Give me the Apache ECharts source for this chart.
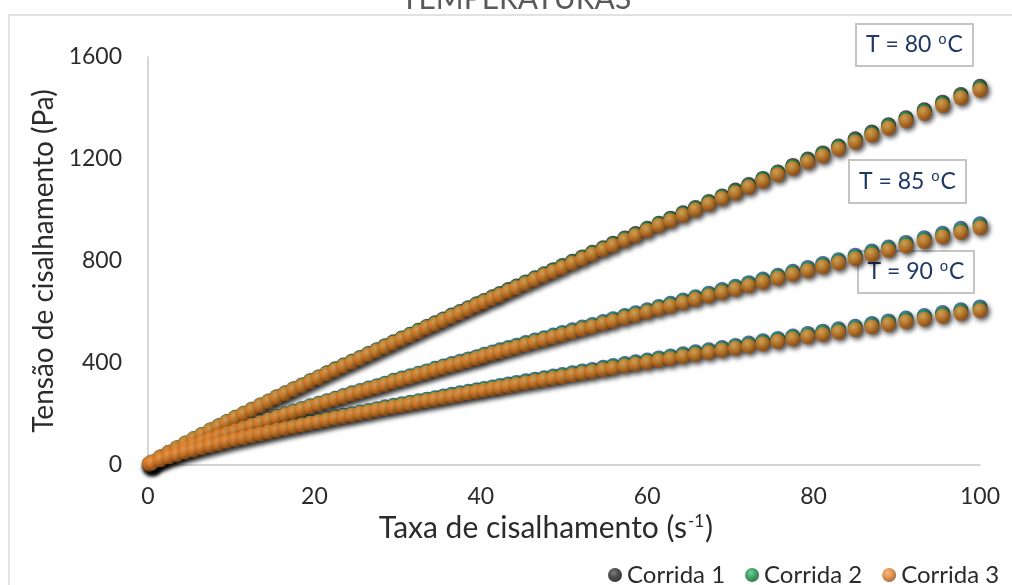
<!DOCTYPE html>
<html>
<head>
<meta charset="utf-8">
<title>Temperaturas</title>
<script src="https://cdn.jsdelivr.net/npm/echarts@6/dist/echarts.min.js"></script>
<style>
  html, body { margin: 0; padding: 0; background: #fff; }
  #chart { width: 1012px; height: 585px; }
</style>
</head>
<body>
<div id="chart"></div>
<script>
// taxa de cisalhamento (s-1), comum a todas as corridas
const taxa = [0.2,0.5,1.5,2.5,3.5,4.5,5.5,6.5,7.5,8.5,9.5,10.5,11.5,12.5,13.5,14.5,15.5,16.5,17.5,18.5,19.5,20.5,21.5,22.5,23.5,24.5,25.5,26.5,27.5,28.5,29.5,30.5,31.5,32.5,33.5,34.5,35.5,36.5,37.5,38.5,39.5,40.4,41.4,42.3,43.3,44.3,45.4,46.5,47.6,48.7,49.8,51.0,52.2,53.4,54.7,55.9,57.3,58.6,60.0,61.4,62.8,64.3,65.8,67.4,69.0,70.6,72.2,73.9,75.7,77.5,79.3,81.1,83.0,85.0,87.0,89.0,91.1,93.3,95.5,97.7,100];

// tensão de cisalhamento (Pa)
const c1_80 = [5,11,31,50,68,86,103,120,137,154,171,187,203,219,235,251,268,283,299,314,330,345,362,377,392,407,422,437,452,468,483,498,513,528,543,558,573,588,602,617,632,645,660,673,688,702,718,734,750,766,782,799,816,834,852,870,890,908,928,948,968,989,1010,1033,1055,1078,1100,1124,1149,1175,1200,1224,1251,1279,1306,1334,1362,1393,1423,1453,1485];
const c2_80 = [5,11,31,49,67,85,103,120,137,153,170,186,202,218,234,250,266,281,297,313,329,344,360,375,390,405,420,435,450,465,480,495,511,526,541,555,570,585,599,614,629,642,656,669,684,698,715,731,747,762,778,795,812,830,848,865,885,903,924,944,963,984,1005,1028,1050,1072,1094,1119,1144,1169,1194,1218,1245,1272,1299,1328,1356,1386,1416,1446,1477];
const c3_80 = [5,11,31,49,67,85,102,119,136,152,169,185,201,217,233,249,265,280,296,311,327,342,358,373,388,403,418,433,448,463,478,493,508,523,538,552,567,582,596,611,626,639,653,666,681,695,711,727,743,758,774,791,808,826,844,861,881,899,919,939,958,979,1000,1023,1045,1067,1089,1113,1138,1163,1188,1212,1239,1266,1293,1321,1349,1379,1409,1439,1470];

const c1_85 = [4,10,26,40,53,66,78,90,102,114,125,136,147,159,169,180,190,201,212,222,232,242,252,262,273,283,292,302,311,321,332,341,350,360,369,379,388,398,407,416,425,434,443,452,461,470,480,490,499,510,520,530,541,551,563,574,586,597,609,622,634,647,660,674,688,701,715,729,744,760,775,790,805,823,839,855,873,891,909,928,946];
const c2_85 = [4,10,25,39,52,65,78,90,101,113,124,135,146,157,167,178,188,200,210,220,230,240,250,260,270,280,289,299,308,319,329,338,347,357,366,376,385,394,403,412,421,430,439,448,457,466,476,486,495,505,515,525,536,546,558,569,581,592,604,617,628,641,654,668,681,695,709,723,738,753,768,783,798,815,832,848,865,883,901,919,937];
const c3_85 = [4,10,25,39,52,65,77,89,100,112,123,134,145,156,166,177,187,198,208,218,228,238,248,258,268,278,287,297,306,316,326,335,344,354,363,373,382,391,400,409,418,427,436,444,453,462,472,482,491,501,511,521,532,542,554,564,576,587,599,612,623,636,649,663,676,689,703,717,732,747,762,777,792,809,825,841,858,876,894,912,930];

const c1_90 = [4,9,22,33,42,52,61,70,78,86,94,103,110,118,125,132,139,147,154,161,168,174,181,189,195,201,208,214,221,228,234,240,246,252,258,264,271,277,283,289,295,300,306,312,318,324,330,336,342,349,355,362,369,375,383,390,398,405,412,420,427,436,444,452,461,469,478,487,496,506,516,525,534,544,555,565,576,586,598,609,620];
const c2_90 = [4,9,21,32,41,52,60,69,77,85,93,101,108,116,123,131,138,145,152,159,166,172,179,186,192,198,205,212,219,225,231,237,243,249,255,261,267,273,279,285,291,297,303,308,314,320,326,332,338,344,350,357,364,370,378,385,393,400,407,415,422,430,438,446,455,464,472,481,490,500,509,518,527,537,547,558,569,579,590,601,612];
const c3_90 = [4,9,21,32,41,51,59,68,76,84,92,100,107,115,122,129,136,143,150,157,164,170,177,184,190,196,203,209,216,222,228,234,240,246,252,258,264,270,276,282,288,293,299,304,310,316,322,328,334,340,346,353,360,366,374,380,388,395,402,410,417,425,433,441,450,458,466,475,484,494,503,512,521,531,541,551,562,572,583,594,605];

const rotulosTemp = ['T = 80 {o|o}C', 'T = 85 {o|o}C', 'T = 90 {o|o}C'];

const FONTE = 'Lato';
const COR_TEXTO = '#2b2b2b';

function pares(ys) {
  return taxa.map(function (x, i) { return [x, ys[i]]; });
}

function esfera(claro, meio, escuro) {
  return {
    type: 'radial', x: 0.4, y: 0.35, r: 0.7,
    colorStops: [
      { offset: 0, color: claro },
      { offset: 0.45, color: meio },
      { offset: 1, color: escuro }
    ]
  };
}

const preto = esfera('#5e5e5e', '#222222', '#000000');
const azul = esfera('#5585be', '#204f84', '#0d2846');
const verde = esfera('#55c883', '#129044', '#084f24');
const laranja = esfera('#f2a458', '#dd7f2a', '#8c4510');

function serie(nome, ys, cor) {
  return {
    name: nome,
    type: 'scatter',
    data: pares(ys),
    symbol: 'circle',
    symbolSize: 15,
    clip: false,
    itemStyle: {
      color: cor,
      shadowBlur: 5,
      shadowColor: 'rgba(0,0,0,0.45)',
      shadowOffsetX: 2,
      shadowOffsetY: 3
    }
  };
}

function caixa(x, y, w, h, texto) {
  return {
    type: 'group',
    left: x, top: y,
    children: [
      { type: 'rect', shape: { x: 0, y: 0, width: w, height: h },
        style: { fill: '#fff', stroke: '#c4c4c4', lineWidth: 2 } },
      { type: 'text', x: w / 2, y: h / 2,
        style: {
          text: texto, fill: '#1f3864', font: '23px ' + FONTE,
          align: 'center', verticalAlign: 'middle',
          rich: { o: { fontSize: 15, fill: '#1f3864', verticalAlign: 'top', padding: [0, 1, 10, 1] } }
        } }
    ]
  };
}

const chart = echarts.init(document.getElementById('chart'));

const option = {
  animation: false,
  backgroundColor: '#ffffff',
  textStyle: { fontFamily: FONTE },
  grid: { left: 148, right: 32, top: 57, bottom: 120 },
  legend: {
    data: ['Corrida 1', 'Corrida 2', 'Corrida 3'],
    left: 603, top: 558,
    icon: 'circle', itemWidth: 14, itemHeight: 14, itemGap: 20,
    textStyle: { fontFamily: FONTE, fontSize: 24, color: COR_TEXTO }
  },
  xAxis: {
    type: 'value', min: 0, max: 100, interval: 20,
    name: '{t|Taxa de cisalhamento (s}{sup|-1}{t|)}',
    nameLocation: 'middle', nameGap: 43,
    nameTextStyle: {
      fontFamily: FONTE, fontSize: 30, color: COR_TEXTO,
      padding: [0, 36, 0, 0],
      rich: {
        t: { fontFamily: FONTE, fontSize: 30, color: COR_TEXTO },
        sup: { fontFamily: FONTE, fontSize: 17, color: COR_TEXTO, verticalAlign: 'top', padding: [0, 1, 14, 1] }
      }
    },
    axisLine: { show: true, lineStyle: { color: '#c8c8c8', width: 1.5 } },
    axisTick: { show: false },
    splitLine: { show: false },
    axisLabel: { margin: 20, fontSize: 23, color: COR_TEXTO, fontFamily: FONTE }
  },
  yAxis: {
    type: 'value', min: 0, max: 1600, interval: 400,
    name: 'Tensão de cisalhamento (Pa)',
    nameLocation: 'middle', nameGap: 90,
    nameTextStyle: { fontFamily: FONTE, fontSize: 28, color: COR_TEXTO },
    axisLine: { show: true, lineStyle: { color: '#c8c8c8', width: 1.5 } },
    axisTick: { show: false },
    splitLine: { show: false },
    axisLabel: {
      margin: 26, fontSize: 23, color: COR_TEXTO, fontFamily: FONTE,
      formatter: function (v) { return String(v); }
    }
  },
  graphic: [
    { type: 'rect', shape: { x: 9, y: 15, width: 1200, height: 800 },
      style: { fill: 'none', stroke: '#d9d9d9', lineWidth: 1.5 }, z: -10 },
    { type: 'text', x: 516, y: 14,
      style: { text: 'TEMPERATURAS', fill: '#595959', font: '30px ' + FONTE,
        align: 'center', verticalAlign: 'bottom' } },
    caixa(855, 23, 117, 42, rotulosTemp[0]),
    caixa(848, 159, 117, 43, rotulosTemp[1]),
    caixa(857, 250, 116, 42, rotulosTemp[2])
  ],
  series: [
    serie('Corrida 1', c1_80, preto),
    serie('Corrida 1', c1_85, azul),
    serie('Corrida 1', c1_90, azul),
    serie('Corrida 2', c2_80, verde),
    serie('Corrida 2', c2_85, verde),
    serie('Corrida 2', c2_90, verde),
    serie('Corrida 3', c3_80, laranja),
    serie('Corrida 3', c3_85, laranja),
    serie('Corrida 3', c3_90, laranja)
  ]
};

chart.setOption(option);
</script>
</body>
</html>
